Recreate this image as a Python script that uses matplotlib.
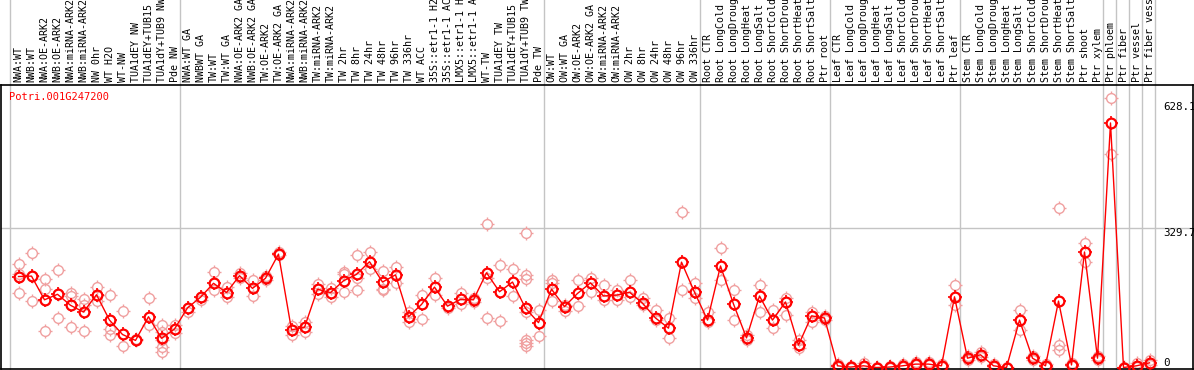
import matplotlib
matplotlib.use("Agg")
import matplotlib.pyplot as plt
import matplotlib.transforms as mtransforms
from matplotlib.path import Path
import numpy as np

# sample names (header, left to right)
samples = [
    "NWA:WT", "NWB:WT", "NWA:OE-ARK2", "NWB:OE-ARK2", "NWA:miRNA-ARK2", "NWB:miRNA-ARK2",
    "NW 0hr", "WT H2O", "WT-NW", "TUA1dEY NW", "TUA1dEY+TUB15 NW", "TUA1dY+TUB9 NW", "Pde NW",
    "NWA:WT GA", "NWBWT GA", "TW:WT", "TW:WT GA", "NWA:OE-ARK2 GA", "NWB:OE-ARK2 GA",
    "TW:OE-ARK2", "TW:OE-ARK2 GA", "NWA:miRNA-ARK2", "NWB:miRNA-ARK2", "TW:miRNA-ARK2",
    "TW:miRNA-ARK2", "TW 2hr", "TW 8hr", "TW 24hr", "TW 48hr", "TW 96hr", "TW 336hr",
    "WT ACC", "35S::etr1-1 H2O", "35S::etr1-1 ACC", "LMX5::etr1-1 H2O", "LMX5::etr1-1 ACC",
    "WT-TW", "TUA1dEY TW", "TUA1dEY+TUB15 TW", "TUA1dY+TUB9 TW", "Pde TW",
    "OW:WT", "OW:WT GA", "OW:OE-ARK2", "OW:OE-ARK2 GA", "OW:miRNA-ARK2", "OW:miRNA-ARK2",
    "OW 2hr", "OW 8hr", "OW 24hr", "OW 48hr", "OW 96hr", "OW 336hr",
    "Root CTR", "Root LongCold", "Root LongDrought", "Root LongHeat", "Root LongSalt",
    "Root ShortCold", "Root ShortDrought", "Root ShortHeat", "Root ShortSalt", "Ptr root",
    "Leaf CTR", "Leaf LongCold", "Leaf LongDrought", "Leaf LongHeat", "Leaf LongSalt",
    "Leaf ShortCold", "Leaf ShortDrought", "Leaf ShortHeat", "Leaf ShortSalt", "Ptr leaf",
    "Stem CTR", "Stem LongCold", "Stem LongDrought", "Stem LongHeat", "Stem LongSalt",
    "Stem ShortCold", "Stem ShortDrought", "Stem ShortHeat", "Stem ShortSalt",
    "Ptr shoot", "Ptr xylem", "Ptr phloem", "Ptr fiber", "Ptr vessel", "Ptr fiber vessel",
]

# mean expression per sample
means = [
    215, 216, 160, 173, 147, 131, 172, 112, 78, 64, 120, 69, 91,
    141, 166, 199, 177, 217, 187, 211, 268, 89, 95, 185, 177, 205, 220, 250, 202, 219,
    120, 149, 190, 145, 161, 160, 224, 179, 202, 140, 106,
    185, 144, 175, 200, 169, 171, 178, 152, 117, 93, 249, 178,
    112, 240, 150, 70, 169, 112, 155, 53, 122, 117,
    4, 1, 4, 0, 1, 4, 8, 8, 4, 167,
    22, 30, 4, 0, 112, 22, 4, 157, 6, 273, 22,
    578, 0, 4, 11,
]

# individual replicates per sample
replicates = [
    [244, 220, 175], [270, 216, 156], [208, 185, 86], [230, 174, 116], [177, 169, 95],
    [163, 148, 86], [190, 172, 156], [171, 90, 76], [133, 51], [68, 64], [164, 100],
    [100, 84, 65, 49, 36], [100, 82],
    [141, 130], [166, 160], [226, 182], [190, 167], [223, 212], [207, 170], [216, 207],
    [272, 266], [98, 77], [108, 85], [197, 174], [187, 166], [226, 221, 178],
    [266, 211, 182], [274, 232], [228, 185, 182], [237, 200], [130, 108], [171, 115],
    [211, 171], [145, 140], [175, 150], [164, 155], [339, 211, 116], [242, 110],
    [232, 170], [319, 219, 208, 132, 65, 59, 51], [136, 74],
    [207, 199, 157], [148, 134], [207, 145], [212, 178], [195, 160], [183, 160],
    [207, 167], [164, 148], [136, 112], [117, 70], [367, 183], [200, 164],
    [131, 108], [282, 207], [183, 112], [77, 65], [195, 131], [136, 93], [164, 124],
    [65, 46], [131, 108], [122, 112],
    [8, 2], [4, 0], [10, 2], [2, 0], [4, 0], [8, 2], [12, 6], [12, 6], [8, 2], [195, 148],
    [26, 18], [36, 24], [8, 2], [2, 0], [136, 89], [26, 18], [8, 2], [377, 53, 41],
    [10, 4], [294, 249], [26, 18],
    [637, 505], [2, 0], [10, 2], [18, 6],
]

group_edges = [-0.65, 12.45, 40.45, 52.45, 62.45, 72.45, 83.45, 84.45, 85.45, 86.45, 87.45]
ymarks = [0, 329.7, 628.1]

W, H = 1194, 370
fig = plt.figure(figsize=(W / 100, H / 100), dpi=100)
ax = fig.add_axes([1 / W, 1 / H, 1192 / W, 284 / H])

x = np.arange(len(samples))
px = 13.0  # pixel pitch of one sample column
upp = 2.3634  # value units per pixel
ax.set_xlim(-17.5 / px, (1192 - 17.5) / px)
ax.set_ylim((367.5 - 369) * upp, (367.5 - 85) * upp)

# little ticks around each circle marker
segs = []
for dx, dy in [(0, 1), (0, -1), (1, 0), (-1, 0)]:
    segs.append(Path([(dx, dy), (dx * 1.4, dy * 1.4)], [Path.MOVETO, Path.LINETO]))
tickmark = Path.make_compound_path(*segs)
ms = 7.0

font = "DejaVu Sans Mono"
fs = 7.2

# separators and grid
trans = mtransforms.blended_transform_factory(ax.transData, ax.transAxes)
rtrans = mtransforms.blended_transform_factory(ax.transAxes, ax.transData)
for e in group_edges:
    ax.plot([e, e], [0, 369 / 284], transform=trans, color="#c4c4c4", lw=1.0,
            clip_on=False, zorder=0)
ax.axhline(329.7, color="#c4c4c4", lw=1.0, zorder=0)

# replicates
rx = [i for i, r in enumerate(replicates) for _ in r]
ry = [v for r in replicates for v in r]
ax.plot(rx, ry, ls="none", marker="o", ms=ms, mfc="none", mec="#f0a0a0",
        mew=1.0, zorder=2, clip_on=False)
ax.plot(rx, ry, ls="none", marker=tickmark, ms=ms * 1.4, mec="#f0a0a0",
        mew=1.0, zorder=2, clip_on=False)

# means
ax.plot(x, means, color="red", lw=1.0, marker="o", ms=ms, mfc="none",
        mec="red", mew=1.6, zorder=3, clip_on=False)
ax.plot(x, means, ls="none", marker=tickmark, ms=ms * 1.4, mec="red",
        mew=1.2, zorder=3, clip_on=False)

# header labels
for i, s in enumerate(samples):
    ax.text(i, 1 + 3 / 284, s, transform=trans, rotation=90, ha="center", va="bottom",
            family=font, fontsize=fs, color="black", clip_on=False)

# value labels on the right
for v in ymarks:
    ax.text(1162 / 1192, v, f"{v:g}", transform=rtrans, ha="left",
            va="bottom" if v == 0 else "top", family=font, fontsize=fs + 0.6)

ax.text(8 / 1192, 1 - 7 / 284, "Potri.001G247200", transform=ax.transAxes,
        va="top", ha="left", family=font, fontsize=fs + 0.3, color="red")

ax.set_xticks([])
ax.set_yticks([])
for sp in ax.spines.values():
    sp.set_color("black")
    sp.set_linewidth(1.2)

fig.savefig("out.png", dpi=100)
